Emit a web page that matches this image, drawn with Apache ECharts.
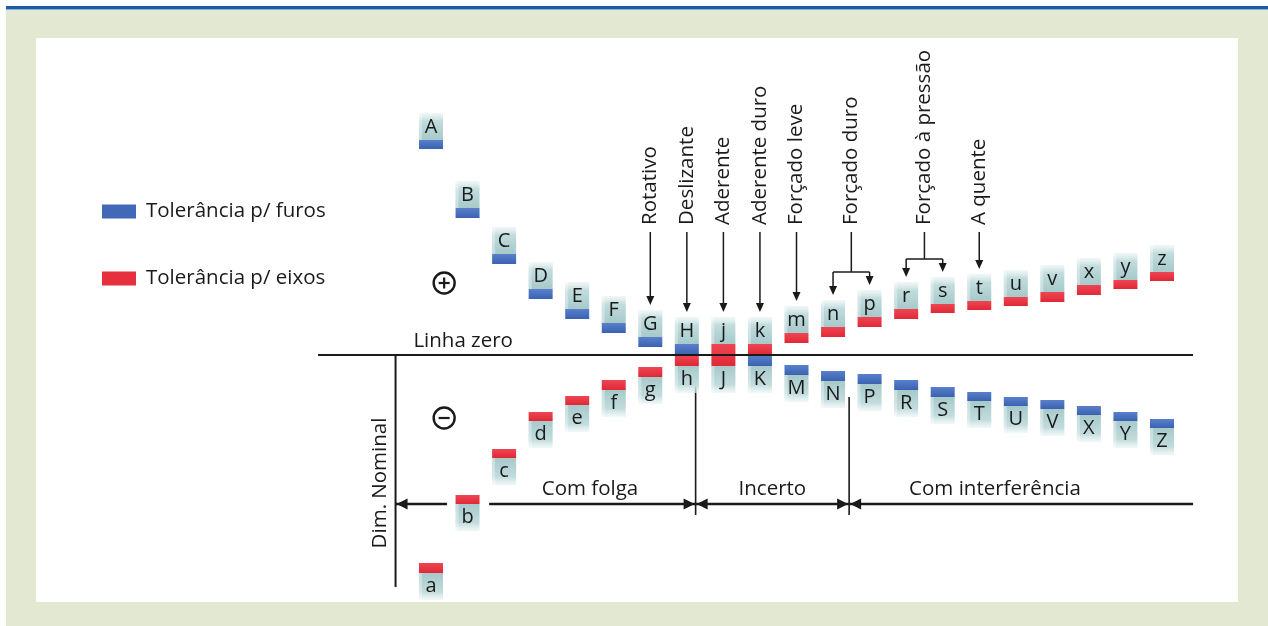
<!DOCTYPE html>
<html><head><meta charset="utf-8">
<script src="https://cdn.jsdelivr.net/npm/echarts@6/dist/echarts.min.js"></script>
<style>
html,body{margin:0;padding:0;background:#fff;}
#c{width:1268px;height:626px;}
</style></head><body><div id="c"></div>
<script>
// ---------------- data ----------------
const holeLetters = ['A','B','C','D','E','F','G','H','J','K','M','N','P','R','S','T','U','V','X','Y','Z'];
const holeUpper   = [215,147,101,66,46,32,18,11,-11,0,-10,-16,-19,-25,-32,-37,-42,-45,-51,-57,-64];
const holeLower   = [206,137, 91,56,36,22, 8, 0,-11,-11,-20,-26,-29,-35,-42,-46,-51,-54,-60,-66,-73];

const shaftLetters = ['a','b','c','d','e','f','g','h','j','k','m','n','p','r','s','t','u','v','x','y','z'];
const shaftUpper   = [-208,-140,-94,-57,-41,-25,-12,0,11,11,22,28,38,46,51,54,58,63,70,75,83];
const shaftLower   = [-218,-149,-103,-66,-50,-35,-22,-11,-11,0,12,18,28,36,42,45,49,53,60,66,74];

const fitLabels  = ['Rotativo','Deslizante','Aderente','Aderente duro','Forçado leve','Forçado duro','Forçado à pressão','A quente'];
const fitTargets = [['G'],['H'],['j'],['k'],['m'],['n','p'],['r','s'],['t']];

const zoneLabels = ['Com folga','Incerto','Com interferência'];
const legendNames = ['Tolerância p/ furos','Tolerância p/ eixos'];

// ---------------- layout constants ----------------
const X_MIN = -3.2, X_MAX = 21.2, Y_MIN = -240, Y_MAX = 260;
const ZERO_X0 = -3.09, ZERO_X1 = 20.85;
const DIM_X = -0.97, DIM_Y = -149, DIM_BOTTOM = -232;
const ZONE_BOUNDS = [DIM_X, 7.24, 11.44, ZERO_X1];
const B_GAP = [0.44, 1.59];
const FONT = '"Open Sans", "Noto Sans", sans-serif';
const FS = '20.5px ';
const INK = '#1a1a1a';
const BLUE = '#4169b8', RED = '#e6303e';

function colOf(letter){
  let i = holeLetters.indexOf(letter);
  if (i >= 0) return {i, up: holeUpper[i]};
  i = shaftLetters.indexOf(letter);
  return {i, up: shaftUpper[i]};
}

function blockRender(letters, bandColors){
  return function(params, api){
    const idx = api.value(0), hi = api.value(1), lo = api.value(2);
    const pHi = api.coord([idx, hi]), pLo = api.coord([idx, lo]);
    const w = 24, x0 = pHi[0] - w/2, bodyH = 27;
    const up = (hi + lo) >= 0;
    const ch = [];
    let by, ty, grad;
    if (up) {
      by = pHi[1] - bodyH; ty = pHi[1] - 13;
      grad = new echarts.graphic.LinearGradient(0,0,0,1,[{offset:0,color:'rgba(232,242,242,0.6)'},{offset:0.3,color:'#c2dcdd'},{offset:1,color:'#a6c9ca'}]);
    } else {
      by = pLo[1]; ty = pLo[1] + 13;
      grad = new echarts.graphic.LinearGradient(0,0,0,1,[{offset:0,color:'#a6c9ca'},{offset:0.7,color:'#c2dcdd'},{offset:1,color:'rgba(232,242,242,0.6)'}]);
    }
    ch.push({type:'rect', shape:{x:x0, y:by, width:w, height:bodyH}, style:{fill:grad}});
    ch.push({type:'rect', shape:{x:x0, y:by, width:3, height:bodyH}, style:{fill:'rgba(255,255,255,0.35)'}});
    const bh = pLo[1] - pHi[1];
    if (bh > 0.5) {
      ch.push({type:'rect', shape:{x:x0, y:pHi[1], width:w, height:bh},
        style:{fill:new echarts.graphic.LinearGradient(0,0,0,1,[{offset:0,color:bandColors[0]},{offset:1,color:bandColors[1]}])}});
    }
    ch.push({type:'text', x:pHi[0], y:ty, style:{text:letters[params.dataIndex], fill:INK, font:'20px '+FONT, align:'center', verticalAlign:'middle'}});
    return {type:'group', children:ch};
  };
}

function arrowHead(x, y, dir, len, half){ // dir: 'down','left','right'
  let pts;
  if (dir==='down') pts=[[x,y],[x-half,y-len],[x+half,y-len]];
  else if (dir==='left') pts=[[x,y],[x+len,y-half],[x+len,y+half]];
  else pts=[[x,y],[x-len,y-half],[x-len,y+half]];
  return {type:'polygon', shape:{points:pts}, style:{fill:INK}};
}

const holeData = holeLetters.map((l,i)=>[i, holeUpper[i], holeLower[i]]);
const shaftData = shaftLetters.map((l,i)=>[i, shaftUpper[i], shaftLower[i]]);

const chart = echarts.init(document.getElementById('c'));
const option = {
  animation:false,
  backgroundColor:'#ffffff',
  graphic:[
    {type:'rect', z:-10, shape:{x:6, y:6, width:1262, height:620}, style:{fill:'#e3e8d2'}},
    {type:'rect', z:-9, shape:{x:6, y:6, width:1262, height:3}, style:{fill:'#1c5aa6'}},
    {type:'rect', z:-9, shape:{x:6, y:9, width:1262, height:1}, style:{fill:'#8fb0d6'}},
    {type:'rect', z:-8, shape:{x:36, y:38, width:1202, height:564}, style:{fill:'#ffffff'}}
  ],
  legend:{
    data:legendNames, orient:'vertical', left:102, top:201, padding:0, itemWidth:34, itemHeight:14, itemGap:46,
    icon:'rect', textStyle:{fontSize:20.5, color:INK, fontFamily:FONT, padding:[0,0,0,5]},
    selectedMode:false
  },
  grid:{left:314.04, right:62.14, top:95, bottom:31},
  xAxis:{type:'value', min:X_MIN, max:X_MAX, show:false},
  yAxis:{type:'value', min:Y_MIN, max:Y_MAX, show:false},
  series:[
    { // dimension lines
      type:'custom', z:2, silent:true, data:[[0,0]],
      renderItem(params, api){
        const ch = [];
        const lw = {stroke:INK, lineWidth:2.5};
        const P = (x,y)=>api.coord([x,y]);
        let a=P(DIM_X,0), b=P(DIM_X,DIM_BOTTOM);
        ch.push({type:'line', shape:{x1:a[0],y1:a[1],x2:b[0],y2:b[1]}, style:{stroke:INK,lineWidth:2}});
        let d1t=P(ZONE_BOUNDS[1],-30), d1b=P(ZONE_BOUNDS[1],-160);
        ch.push({type:'line', shape:{x1:d1t[0],y1:d1t[1],x2:d1b[0],y2:d1b[1]}, style:{stroke:INK,lineWidth:1.6}});
        let d2t=P(ZONE_BOUNDS[2],-42), d2b=P(ZONE_BOUNDS[2],-160);
        ch.push({type:'line', shape:{x1:d2t[0],y1:d2t[1],x2:d2b[0],y2:d2b[1]}, style:{stroke:INK,lineWidth:1.6}});
        const segs=[[ZONE_BOUNDS[0],B_GAP[0]],[B_GAP[1],ZONE_BOUNDS[1]],[ZONE_BOUNDS[1],ZONE_BOUNDS[2]],[ZONE_BOUNDS[2],ZONE_BOUNDS[3]]];
        segs.forEach(s=>{const p=P(s[0],DIM_Y), q=P(s[1],DIM_Y);
          ch.push({type:'line', shape:{x1:p[0],y1:p[1],x2:q[0],y2:q[1]}, style:lw});});
        const yy = P(0,DIM_Y)[1];
        ch.push(arrowHead(P(ZONE_BOUNDS[0],0)[0]+1, yy, 'left', 11, 5.5));
        ch.push(arrowHead(P(ZONE_BOUNDS[1],0)[0]-1, yy, 'right', 11, 5.5));
        ch.push(arrowHead(P(ZONE_BOUNDS[1],0)[0]+1, yy, 'left', 11, 5.5));
        ch.push(arrowHead(P(ZONE_BOUNDS[2],0)[0]-1, yy, 'right', 11, 5.5));
        ch.push(arrowHead(P(ZONE_BOUNDS[2],0)[0]+1, yy, 'left', 11, 5.5));
        const zoneCenters = [4.35, (ZONE_BOUNDS[1]+ZONE_BOUNDS[2])/2, 15.43];
        for (let k=0;k<3;k++){
          const cx = P(zoneCenters[k],0)[0];
          ch.push({type:'text', x:cx, y:yy-15, style:{text:zoneLabels[k], fill:INK, font:FS+FONT, align:'center', verticalAlign:'middle'}});
        }
        const dn = P(-1.40,-128);
        ch.push({type:'text', x:dn[0], y:dn[1], rotation:Math.PI/2, style:{text:'Dim. Nominal', fill:INK, font:FS+FONT, align:'center', verticalAlign:'middle'}});
        const lz = P(0.88, 14);
        ch.push({type:'text', x:lz[0], y:lz[1], style:{text:'Linha zero', fill:INK, font:FS+FONT, align:'center', verticalAlign:'middle'}});
        const sp = P(0.36,72), sm = P(0.36,-63);
        [sp,sm].forEach((s,k)=>{
          ch.push({type:'circle', shape:{cx:s[0],cy:s[1],r:10.5}, style:{fill:'none',stroke:INK,lineWidth:2.4}});
          ch.push({type:'line', shape:{x1:s[0]-5.5,y1:s[1],x2:s[0]+5.5,y2:s[1]}, style:{stroke:INK,lineWidth:2.2}});
          if (k===0) ch.push({type:'line', shape:{x1:s[0],y1:s[1]-5.5,x2:s[0],y2:s[1]+5.5}, style:{stroke:INK,lineWidth:2.2}});
        });
        return {type:'group', children:ch};
      }
    },
    {
      name:legendNames[0], type:'custom', z:5, silent:true, itemStyle:{color:BLUE},
      data:holeData, renderItem:blockRender(holeLetters, ['#5a80cb','#3a62b1'])
    },
    {
      name:legendNames[1], type:'custom', z:6, silent:true, itemStyle:{color:RED},
      data:shaftData, renderItem:blockRender(shaftLetters, ['#ee4653','#e02836'])
    },
    { // zero line on top
      type:'custom', z:8, silent:true, data:[[0,0]],
      renderItem(params, api){
        const a=api.coord([ZERO_X0,0]), b=api.coord([ZERO_X1,0]);
        return {type:'line', shape:{x1:a[0],y1:a[1],x2:b[0],y2:b[1]}, style:{stroke:INK,lineWidth:2}};
      }
    },
    { // fit annotations
      type:'custom', z:7, silent:true, data:fitLabels.map((l,i)=>[i,0]),
      renderItem(params, api){
        const i = params.dataIndex;
        const targets = fitTargets[i].map(colOf);
        const tips = targets.map(t=>api.coord([t.i, t.up + 32]));
        const cx = tips.reduce((s,p)=>s+p[0],0)/tips.length;
        const textBottom = api.coord([0,130])[1];
        const stemTop = api.coord([0,123])[1];
        const ch = [];
        const st = {stroke:INK, lineWidth:1.5};
        ch.push({type:'text', x:cx, y:textBottom, rotation:Math.PI/2, style:{text:fitLabels[i], fill:INK, font:FS+FONT, align:'left', verticalAlign:'middle'}});
        if (tips.length===1){
          ch.push({type:'line', shape:{x1:cx,y1:stemTop,x2:cx,y2:tips[0][1]-6}, style:st});
          ch.push(arrowHead(cx, tips[0][1], 'down', 9, 4));
        } else {
          const branch = Math.min(...tips.map(p=>p[1])) - 13;
          ch.push({type:'line', shape:{x1:cx,y1:stemTop,x2:cx,y2:branch}, style:st});
          ch.push({type:'line', shape:{x1:tips[0][0],y1:branch,x2:tips[1][0],y2:branch}, style:st});
          tips.forEach(p=>{
            ch.push({type:'line', shape:{x1:p[0],y1:branch,x2:p[0],y2:p[1]-6}, style:st});
            ch.push(arrowHead(p[0], p[1], 'down', 9, 4));
          });
        }
        return {type:'group', children:ch};
      }
    }
  ]
};
chart.setOption(option);
</script></body></html>
